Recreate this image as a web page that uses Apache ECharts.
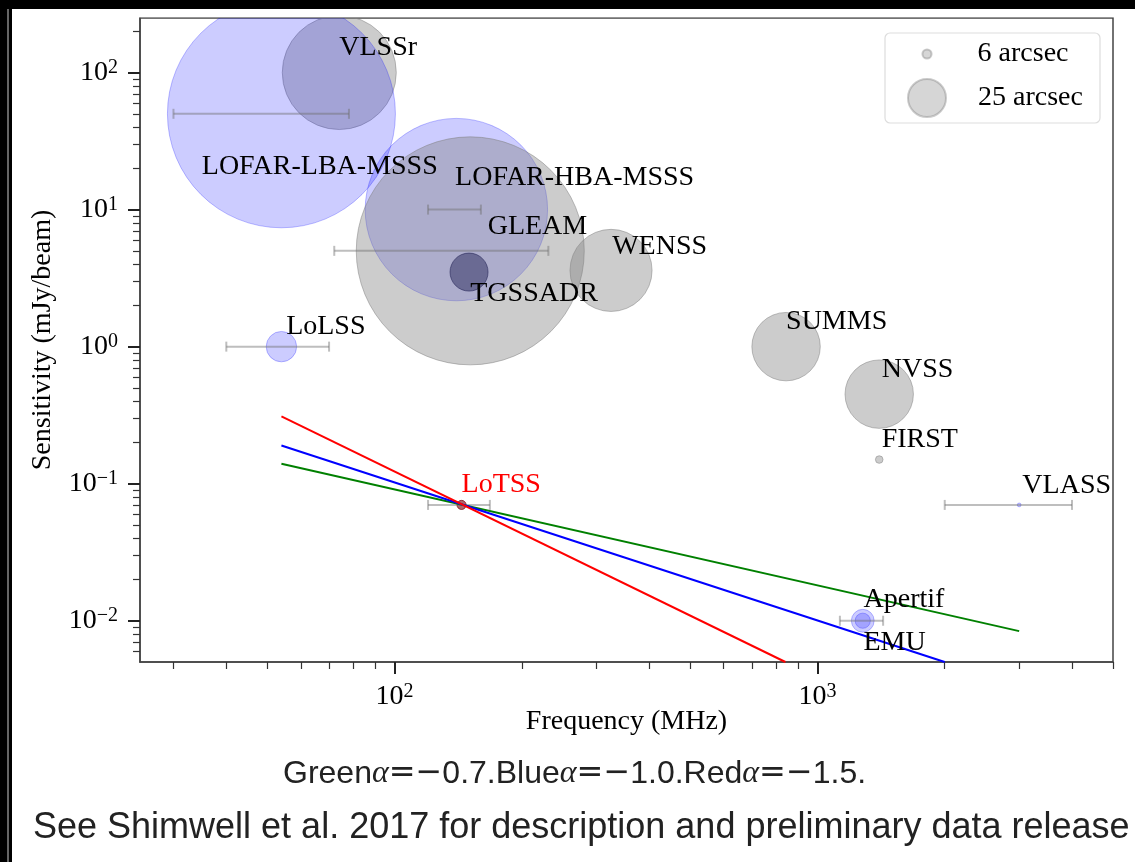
<!DOCTYPE html>
<html><head><meta charset="utf-8">
<script src="https://cdn.jsdelivr.net/npm/echarts@6/dist/echarts.min.js"></script>
<style>html,body{margin:0;padding:0;background:#fff}#c{width:1135px;height:862px}</style>
</head><body><div id="c"></div>
<script>
// ---------------- data ----------------
const surveys      = ['VLSSr','LOFAR-LBA-MSSS','LOFAR-HBA-MSSS','GLEAM','TGSSADR','WENSS','LoLSS','LoTSS','SUMMS','NVSS','FIRST','VLASS','Apertif','EMU'];
const freqMHz      = [74, 54, 140, 151, 150, 325, 54, 144, 843, 1400, 1400, 3000, 1280, 1280];
const sensitivity  = [100, 50, 10, 5, 3.5, 3.6, 1, 0.07, 1, 0.45, 0.15, 0.07, 0.01, 0.01];
const beamArcsec   = [75, 150, 120, 150, 25, 54, 20, 6, 45, 45, 5, 2.5, 15, 10];
const freqLow      = [null, 30, 120, 72, null, null, 40, 120, null, null, null, 2000, 1130, null];
const freqHigh     = [null, 78, 160, 231, null, null, 70, 168, null, null, null, 4000, 1430, null];
const status       = ['grey','blue','blue','grey','dark','grey','blue','red','grey','grey','grey','blue','blue','blue'];
// annotation anchors (frequency MHz, sensitivity mJy/beam)
const labelFreq    = [74, 35, 139, 166, 151, 327, 55.4, 144, 843, 1419, 1419, 3052, 1285, 1285];
const labelSens    = [152, 20.7, 17.2, 7.57, 2.42, 5.41, 1.39, 0.0984, 1.51, 0.677, 0.209, 0.0967, 0.0143, 0.00695];
// spectral index lines through LoTSS (start / end points)
const greenLine    = [[54, 0.14], [3000, 0.0084]];
const blueLine     = [[54, 0.19], [2000, 0.005]];
const redLine      = [[54, 0.31], [840, 0.005]];
const legendBeams  = [6, 25];
const legendNames  = ['6 arcsec', '25 arcsec'];
// ticks
const xMajorTicks  = [100, 1000];
const xMinorTicks  = [30, 40, 50, 60, 70, 80, 90, 200, 300, 400, 500, 600, 700, 800, 900, 2000, 3000, 4000, 5000];
const yMajorTicks  = [0.01, 0.1, 1, 10, 100];
const yMinorTicks  = [0.006, 0.007, 0.008, 0.009, 0.02, 0.03, 0.04, 0.05, 0.06, 0.07, 0.08, 0.09,
                      0.2, 0.3, 0.4, 0.5, 0.6, 0.7, 0.8, 0.9, 2, 3, 4, 5, 6, 7, 8, 9,
                      20, 30, 40, 50, 60, 70, 80, 90, 200];
const captionParts = ['Green', '0.7.Blue', '1.0.Red', '1.5.'];
const footerText   = 'See Shimwell et al. 2017 for description and preliminary data release';

// ---------------- styles ----------------
const SERIF = "'Liberation Serif','Times New Roman',serif";
const SANS = "'Liberation Sans',Arial,sans-serif";
const palette = {
  grey: 'rgba(128,128,128,0.4)',
  blue: 'rgba(0,0,255,0.2)',
  dark: 'rgba(40,40,90,0.5)',
  red:  'rgba(120,0,10,0.6)'
};
const border = {
  grey: 'rgba(128,128,128,0.5)',
  blue: 'rgba(0,0,255,0.25)',
  dark: 'rgba(40,40,90,0.6)',
  red:  'rgba(120,0,10,0.7)'
};
const PX_PER_ARCSEC = 1.52;
const supFmt = v => {
  const e = Math.round(Math.log10(v));
  return '{b|10}{s|' + (e < 0 ? '−' + (-e) : e) + '}';
};
const supRich = {
  b: {fontFamily: SERIF, fontSize: 28, color: '#000', lineHeight: 30},
  s: {fontFamily: SERIF, fontSize: 20, color: '#000', verticalAlign: 'top', lineHeight: 22}
};

const circleData = surveys.map((n, i) => ({name: n, value: [freqMHz[i], sensitivity[i]]}));
const errData = [];
surveys.forEach((n, i) => { if (freqLow[i] != null) errData.push({name: n, value: [freqLow[i], freqHigh[i], sensitivity[i]]}); });
const labelData = surveys.map((n, i) => ({name: n, value: [labelFreq[i], labelSens[i]]}));

const GRID = {left: 140, right: 22, top: 18, bottom: 200};

const option = {
  animation: false,
  backgroundColor: '#fff',
  grid: Object.assign({show: true, borderColor: '#444', borderWidth: 1.5, backgroundColor: 'transparent'}, GRID),
  xAxis: [{
    type: 'log', logBase: 10, min: 25, max: 5000, position: 'bottom',
    name: 'Frequency (MHz)', nameLocation: 'middle', nameGap: 46, nameMoveOverlap: false,
    nameTextStyle: {fontFamily: SERIF, fontSize: 28, color: '#000'},
    axisLine: {show: true, lineStyle: {color: '#444', width: 1.5}},
    axisTick: {show: true, length: 12, customValues: xMajorTicks, lineStyle: {color: '#222', width: 2}},
    axisLabel: {show: true, customValues: xMajorTicks, margin: 20, formatter: supFmt, rich: supRich},
    splitLine: {show: false}, minorTick: {show: false}
  }, {
    type: 'log', logBase: 10, min: 25, max: 5000, position: 'bottom',
    axisLine: {show: false},
    axisTick: {show: true, length: 7, customValues: xMinorTicks, lineStyle: {color: '#333', width: 1.2}},
    axisLabel: {show: false}, splitLine: {show: false}
  }],
  yAxis: [{
    type: 'log', logBase: 10, min: 0.005, max: 250, position: 'left',
    name: 'Sensitivity (mJy/beam)', nameLocation: 'middle', nameGap: 83,
    nameTextStyle: {fontFamily: SERIF, fontSize: 28, color: '#000'},
    axisLine: {show: true, lineStyle: {color: '#444', width: 1.5}},
    axisTick: {show: true, length: 12, customValues: yMajorTicks, lineStyle: {color: '#222', width: 2}},
    axisLabel: {show: true, customValues: yMajorTicks, margin: 22, formatter: supFmt, rich: supRich},
    splitLine: {show: false}
  }, {
    type: 'log', logBase: 10, min: 0.005, max: 250, position: 'left',
    axisLine: {show: false},
    axisTick: {show: true, length: 7, customValues: yMinorTicks, lineStyle: {color: '#333', width: 1.2}},
    axisLabel: {show: false}, splitLine: {show: false}
  }],
  legend: [{
    data: [legendNames[0]], left: 926 - legendBeams[0] * PX_PER_ARCSEC / 2, top: 40, padding: 0,
    itemWidth: legendBeams[0] * PX_PER_ARCSEC, itemHeight: legendBeams[0] * PX_PER_ARCSEC,
    icon: 'circle', selectedMode: false, z: 6,
    textStyle: {fontFamily: SERIF, fontSize: 28, color: '#000', padding: [0, 0, 0, 41]}
  }, {
    data: [legendNames[1]], left: 926 - legendBeams[1] * PX_PER_ARCSEC / 2, top: 78, padding: 0,
    itemWidth: legendBeams[1] * PX_PER_ARCSEC, itemHeight: legendBeams[1] * PX_PER_ARCSEC,
    icon: 'circle', selectedMode: false, z: 6,
    textStyle: {fontFamily: SERIF, fontSize: 28, color: '#000', padding: [0, 0, 0, 27]}
  }],
  graphic: [
    // white margin above the plot frame (hides bubble overflow, as matplotlib clips it)
    {type: 'rect', z: 90, shape: {x: 12, y: 9, width: 1123, height: GRID.top - 9.8}, style: {fill: '#fff'}},
    {type: 'rect', z: 100, shape: {x: 0, y: 0, width: 1135, height: 9}, style: {fill: '#000'}},
    {type: 'rect', z: 100, shape: {x: 0, y: 0, width: 12, height: 862}, style: {fill: '#000'}},
    {type: 'rect', z: 101, shape: {x: 7, y: 9, width: 2, height: 853}, style: {fill: '#666'}},
    {type: 'rect', z: 3, shape: {x: 885, y: 33, width: 215, height: 90, r: 5}, style: {fill: 'rgba(255,255,255,0.8)', stroke: '#ddd', lineWidth: 1.2}},
    {type: 'text', z: 10, left: 283, top: 758,
      style: {
        text: '{t|' + captionParts[0] + '}{a|α}{m|=−}{t|' + captionParts[1] + '}{a|α}{m|=−}{t|' + captionParts[2] + '}{a|α}{m|=−}{t|' + captionParts[3] + '}',
        rich: {
          t: {fontFamily: SANS, fontSize: 32, fill: '#222'},
          m: {fontFamily: "'DejaVu Sans',sans-serif", fontSize: 32, fill: '#222'},
          a: {fontFamily: SERIF, fontStyle: 'italic', fontSize: 32, fill: '#222'}
        }
      }},
    {type: 'text', z: 10, left: 33, top: 810,
      style: {text: footerText, fontFamily: SANS, fontSize: 36, fill: '#222'}}
  ],
  series: [
    {name: legendNames[0], type: 'scatter', data: [], itemStyle: {color: palette.grey, borderColor: border.grey, borderWidth: 1}},
    {name: legendNames[1], type: 'scatter', data: [], itemStyle: {color: palette.grey, borderColor: border.grey, borderWidth: 1}},
    {
      name: 'surveys', type: 'custom', z: 2, clip: true, data: circleData,
      encode: {x: 0, y: 1},
      renderItem: (params, api) => {
        const i = params.dataIndex;
        const p = api.coord([api.value(0), api.value(1)]);
        return {type: 'circle', shape: {cx: p[0], cy: p[1], r: beamArcsec[i] * PX_PER_ARCSEC / 2},
          style: {fill: palette[status[i]], stroke: border[status[i]], lineWidth: 1}};
      }
    },
    {
      name: 'errors', type: 'custom', z: 3, clip: true, data: errData,
      encode: {x: [0, 1], y: 2},
      renderItem: (params, api) => {
        const lo = api.coord([api.value(0), api.value(2)]);
        const hi = api.coord([api.value(1), api.value(2)]);
        const h = 5;
        const style = {stroke: 'rgba(110,110,110,0.45)', lineWidth: 2, fill: null};
        return {type: 'group', children: [
          {type: 'line', shape: {x1: lo[0], y1: lo[1], x2: hi[0], y2: hi[1]}, style: style},
          {type: 'line', shape: {x1: lo[0], y1: lo[1] - h, x2: lo[0], y2: lo[1] + h}, style: style},
          {type: 'line', shape: {x1: hi[0], y1: hi[1] - h, x2: hi[0], y2: hi[1] + h}, style: style}
        ]};
      }
    },
    {name: 'α=−0.7', type: 'line', z: 4, data: greenLine, showSymbol: false, clip: true, lineStyle: {color: '#008000', width: 2}, emphasis: {disabled: true}},
    {name: 'α=−1.0', type: 'line', z: 4, data: blueLine, showSymbol: false, clip: true, lineStyle: {color: '#0000ff', width: 2}, emphasis: {disabled: true}},
    {name: 'α=−1.5', type: 'line', z: 4, data: redLine, showSymbol: false, clip: true, lineStyle: {color: '#ff0000', width: 2}, emphasis: {disabled: true}},
    {
      name: 'labels', type: 'custom', z: 5, clip: false, data: labelData, silent: true,
      encode: {x: 0, y: 1},
      renderItem: (params, api) => {
        const i = params.dataIndex;
        const p = api.coord([api.value(0), api.value(1)]);
        return {type: 'text', x: p[0], y: p[1],
          style: {text: surveys[i], fill: status[i] === 'red' ? '#ff0000' : '#000',
            fontFamily: SERIF, fontSize: 28, align: 'left', verticalAlign: 'middle'}};
      }
    }
  ]
};
const chart = echarts.init(document.getElementById('c'));
chart.setOption(option);
</script>
</body></html>
